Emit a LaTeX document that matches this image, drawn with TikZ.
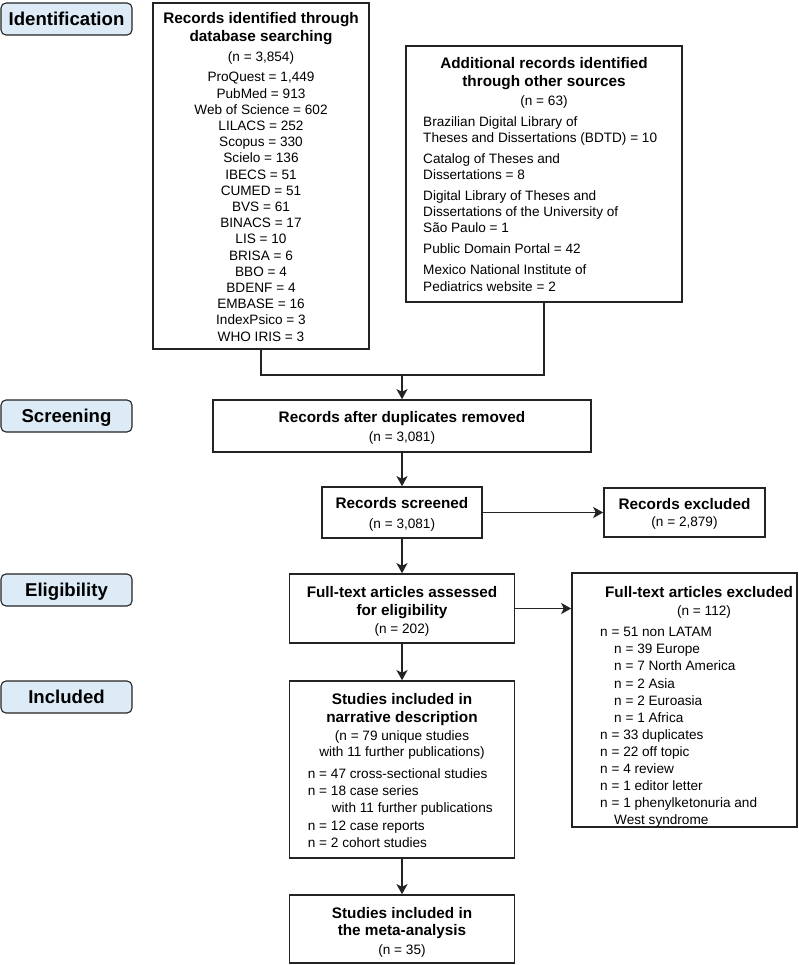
\documentclass[tikz,border=0pt]{standalone}
\usepackage{fontspec}
\setmainfont{Liberation Sans}
\usetikzlibrary{arrows.meta}
\definecolor{stagefill}{RGB}{221,235,247}
\definecolor{edge}{RGB}{35,35,35}
\begin{document}
\begin{tikzpicture}[x=1pt,y=-1pt,
  box/.style={draw=edge, line width=1.6pt, inner sep=0pt},
  stage/.style={draw=edge, fill=stagefill, rounded corners=5pt, line width=1.1pt,
    minimum width=131pt, minimum height=32pt, inner sep=0pt,
    text height=13.3pt, text depth=0pt,
    font=\fontsize{18.6}{22}\selectfont\bfseries},
  ttl/.style={font=\fontsize{15.3}{17.4}\selectfont\bfseries, align=center, inner sep=0pt, anchor=north},
  ttlone/.style={font=\fontsize{15.3}{17.4}\selectfont\bfseries, inner sep=0pt, anchor=base},
  txt/.style={font=\fontsize{13.6}{16.2}\selectfont, inner sep=0pt},
  txtwide/.style={font=\fontsize{13.6}{17.1}\selectfont, inner sep=0pt},
  arr/.style={-{Stealth[length=10pt,width=11pt,inset=2.5pt]}, line width=1.6pt, draw=edge},
  conn/.style={line width=1.6pt, draw=edge}]
\useasboundingbox (0,0) rectangle (798,965);

% stage labels
\node[stage] (sid) at (66.5,19) {Identification};
\node[stage] (sscr) at (66.5,416) {Screening};
\node[stage] (selig) at (66.5,590) {Eligibility};
\node[stage] (sinc) at (66.5,697) {Included};

% database box
\node[box, minimum width=216pt, minimum height=346pt] (db) at (261,176) {};
\node[ttl] (dbT) at (261,11.6) {\strut Records identified through\\database searching};
\node[txt, align=center, anchor=north] (dbL) at (261,50.2) {\strut(n = 3,854)\\[3.9pt]ProQuest = 1,449\\PubMed = 913\\Web of Science = 602\\LILACS = 252\\Scopus = 330\\Scielo = 136\\IBECS = 51\\CUMED = 51\\BVS = 61\\BINACS = 17\\LIS = 10\\BRISA = 6\\BBO = 4\\BDENF = 4\\EMBASE = 16\\IndexPsico = 3\\WHO IRIS = 3};

% other sources box
\node[box, minimum width=276pt, minimum height=256pt] (other) at (544,174) {};
\node[ttl] (otherT) at (544,56.3) {\strut Additional records identified\\through other sources};
\node[txt, anchor=base] (otherN) at (544,105.5) {(n = 63)};
\node[txt, align=left, anchor=north west] (otherL) at (423,114.6) {\strut Brazilian Digital Library of\\Theses and Dissertations (BDTD) = 10\\[4.8pt]Catalog of Theses and\\Dissertations = 8\\[4.8pt]Digital Library of Theses and\\Dissertations of the University of\\São Paulo = 1\\[4.8pt]Public Domain Portal = 42\\[4.8pt]Mexico National Institute of\\Pediatrics website = 2};

% duplicates removed
\node[box, minimum width=378pt, minimum height=52pt] (dup) at (402,426) {};
\node[ttlone] (dupT) at (402,422.2) {Records after duplicates removed};
\node[txt, anchor=base] (dupN) at (402,441.4) {(n = 3,081)};

% screened
\node[box, minimum width=160pt, minimum height=51pt] (scr) at (402,512.5) {};
\node[ttlone] (scrT) at (402,508.8) {Records screened};
\node[txt, anchor=base] (scrN) at (402,528.8) {(n = 3,081)};

% excluded
\node[box, minimum width=161pt, minimum height=49pt] (exc) at (684.5,512.5) {};
\node[ttlone] (excT) at (684.5,509.8) {Records excluded};
\node[txt, anchor=base] (excN) at (684.5,526.4) {(n = 2,879)};

% full text assessed
\node[box, minimum width=225pt, minimum height=69pt] (full) at (402,608.5) {};
\node[ttl] (fullT) at (402,585.6) {\strut Full-text articles assessed\\for eligibility};
\node[txt, anchor=base] (fullN) at (402,633.8) {(n = 202)};

% full text excluded
\node[box, minimum width=225pt, minimum height=254pt] (fex) at (684.5,700) {};
\node[ttlone] (fexT) at (699,597.2) {Full-text articles excluded};
\node[txt, anchor=base] (fexN) at (704,615.3) {(n = 112)};
\node[txtwide, align=left, anchor=north west] (fexL) at (600,624.6) {\strut n = 51 non LATAM\\\hspace*{14pt}n = 39 Europe\\\hspace*{14pt}n = 7 North America\\\hspace*{14pt}n = 2 Asia\\\hspace*{14pt}n = 2 Euroasia\\\hspace*{14pt}n = 1 Africa\\n = 33 duplicates\\n = 22 off topic\\n = 4 review\\n = 1 editor letter\\n = 1 phenylketonuria and\\\hspace*{14pt}West syndrome};

% narrative
\node[box, minimum width=225pt, minimum height=177pt] (narr) at (402,769.5) {};
\node[ttl] (narrT) at (402,692.3) {\strut Studies included in\\narrative description};
\node[txt, align=center, anchor=north] (narrN) at (402,728.9) {\strut(n = 79 unique studies\\with 11 further publications)};
\node[txtwide, align=left, anchor=north west] (narrL) at (307.7,766.6) {\strut n = 47 cross-sectional studies\\n = 18 case series\\\hspace*{24pt}with 11 further publications\\n = 12 case reports\\n = 2 cohort studies};

% meta-analysis
\node[box, minimum width=225pt, minimum height=68pt] (meta) at (402,929) {};
\node[ttl] (metaT) at (402,906) {\strut Studies included in\\the meta-analysis};
\node[txt, anchor=base] (metaN) at (402,954.2) {(n = 35)};

% connectors
\coordinate (jn) at (402,375);
\draw[conn] (db.south) |- (jn) -| (other.south);
\draw[arr] (jn) -- (dup.north);
\draw[arr] (dup.south) -- (scr.north);
\draw[arr] (scr.east) -- (exc.west);
\draw[arr] (scr.south) -- (full.north);
\draw[arr] (full.east) -- (full.east -| fex.west);
\draw[arr] (full.south) -- (narr.north);
\draw[arr] (narr.south) -- (meta.north);
\end{tikzpicture}
\end{document}
